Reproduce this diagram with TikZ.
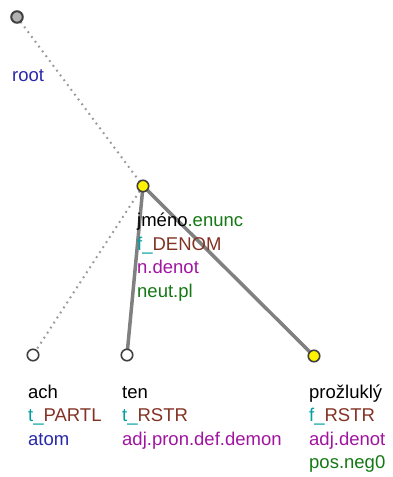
\documentclass[tikz,border=0pt]{standalone}
\usepackage{fontspec}
\setmainfont{Liberation Sans}
\usetikzlibrary{positioning}
\definecolor{lemblue}{RGB}{40,40,170}
\definecolor{fungreen}{RGB}{20,120,20}
\definecolor{funteal}{RGB}{0,160,160}
\definecolor{funbrown}{RGB}{130,50,35}
\definecolor{sempurple}{RGB}{160,20,160}
\begin{document}
\begin{tikzpicture}[
  x=1pt, y=-1pt,
  tnode/.style={circle, draw=black!75, line width=1.6pt, fill=white,
                inner sep=0pt, minimum size=11.5pt},
  rootnode/.style={tnode, fill=black!30, line width=2pt},
  sempos/.style={tnode, fill=yellow},
  lbl/.style={anchor=base west, align=left, inner sep=0pt,
              font=\fontsize{18.5}{23.5}\selectfont},
  auxedge/.style={draw=black!40, line width=2pt, dash pattern=on 1.8pt off 4.2pt},
  depedge/.style={draw=black!50, line width=3.5pt}
]
  \useasboundingbox (0,0) rectangle (392,477);

  % edges first, nodes on top
  \coordinate (rootpos) at (17,17);
  \coordinate (jmenopos) at (143,186);
  \coordinate (achpos) at (33,355);
  \coordinate (tenpos) at (127,355);
  \coordinate (prozpos) at (314,356);

  \draw[auxedge] (rootpos) -- (jmenopos);
  \draw[auxedge] (jmenopos) -- (achpos);
  \draw[depedge] (jmenopos) -- (tenpos);
  \draw[depedge] (jmenopos) -- (prozpos);

  \node[rootnode] (root) at (rootpos) {};
  \node[sempos] (jmeno) at (jmenopos) {};
  \node[tnode] (ach) at (achpos) {};
  \node[tnode] (ten) at (tenpos) {};
  \node[sempos] (proz) at (prozpos) {};

  % labels (placed at the baseline of their last line)
  \node[lbl] (rootlbl) at (12,81) {\textcolor{lemblue}{root}};
  \node[lbl] (jmenolbl) at (137,297) {jméno\textcolor{fungreen}{.enunc}\\
    \textcolor{funteal}{f\_}\textcolor{funbrown}{DENOM}\\
    \textcolor{sempurple}{n.denot}\\
    \textcolor{fungreen}{neut.pl}};
  \node[lbl] (achlbl) at (28,445) {ach\\
    \textcolor{funteal}{t\_}\textcolor{funbrown}{PARTL}\\
    \textcolor{lemblue}{atom}};
  \node[lbl] (tenlbl) at (122,445) {ten\\
    \textcolor{funteal}{t\_}\textcolor{funbrown}{RSTR}\\
    \textcolor{sempurple}{adj.pron.def.demon}};
  \node[lbl] (prozlbl) at (309,468.5) {prožluklý\\
    \textcolor{funteal}{f\_}\textcolor{funbrown}{RSTR}\\
    \textcolor{sempurple}{adj.denot}\\
    \textcolor{fungreen}{pos.neg0}};
\end{tikzpicture}
\end{document}
